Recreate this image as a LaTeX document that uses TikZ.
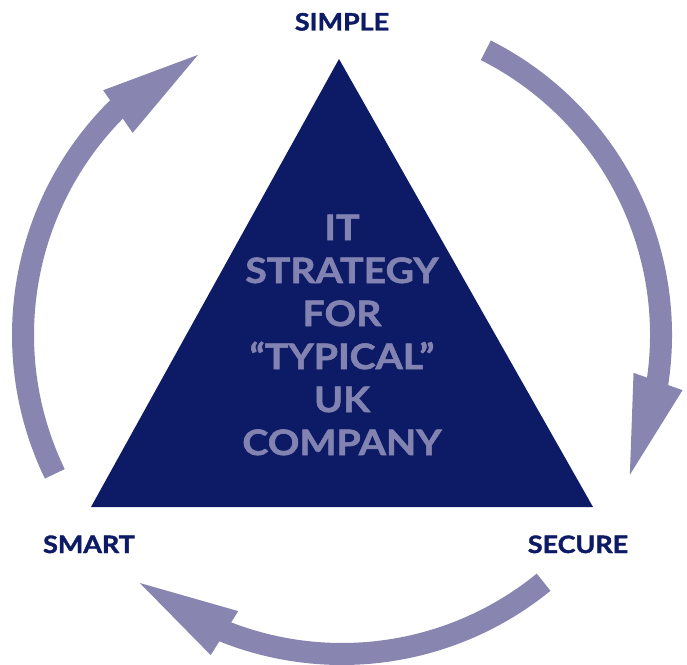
\documentclass[tikz,border=0pt]{standalone}
\usepackage{fontspec}
\setmainfont{Lato}[BoldFeatures={FakeBold=1.6,FakeStretch=1.12}]
\definecolor{navy}{HTML}{0D1A66}
\definecolor{lav}{HTML}{8886B1}
\definecolor{lavtext}{HTML}{8283B0}
\begin{document}
\begin{tikzpicture}[x=1pt,y=1pt,
  shaft/.style={draw=lav,line width=22pt},
  head/.style={fill=lav},
  corner/.style={font=\fontsize{24}{28}\selectfont\bfseries,text=navy,inner sep=0pt,anchor=base},
  core/.style={font=\fontsize{35}{43}\selectfont\bfseries,text=lavtext,inner sep=0pt,align=center,anchor=north}]
\useasboundingbox (0,0) rectangle (687,664);
\coordinate (C) at (342,329);
% triangle
\coordinate (apex) at (339,605);
\coordinate (bl) at (91,157);
\coordinate (br) at (593,157);
\fill[navy] (apex) -- (br) -- (bl) -- cycle;
\node[core] (txt) at (342,449.5) {IT\\STRATEGY\\FOR\\“TYPICAL”\\UK\\COMPANY};
% labels
\node[corner] (simple) at (342,633.5) {SIMPLE};
\node[corner] (smart) at (89,111) {SMART};
\node[corner] (secure) at (578,111) {SECURE};
% right arrow: SIMPLE -> SECURE
\draw[shaft] ([shift={(C)}]63.2:319) arc[start angle=63.2,end angle=-9,radius=319pt];
\fill[head] ([shift={(C)}]-7.4:294) -- ([shift={(C)}]-9.2:345) -- ([shift={(C)}]-25.9:320) -- cycle;
% bottom arrow: SECURE -> SMART
\draw[shaft] ([shift={(C)}]-50.8:319) arc[start angle=-50.8,end angle=-112,radius=319pt];
\fill[head] ([shift={(C)}]-110.6:295) -- ([shift={(C)}]-112.3:346) -- ([shift={(C)}]-129.2:320) -- cycle;
% left arrow: SMART -> SIMPLE
\draw[shaft] ([shift={(C)}]205.8:319) arc[start angle=205.8,end angle=134.5,radius=319pt];
\fill[head] ([shift={(C)}]136:291) -- ([shift={(C)}]134.3:342) -- ([shift={(C)}]117.2:315) -- cycle;
\end{tikzpicture}
\end{document}
